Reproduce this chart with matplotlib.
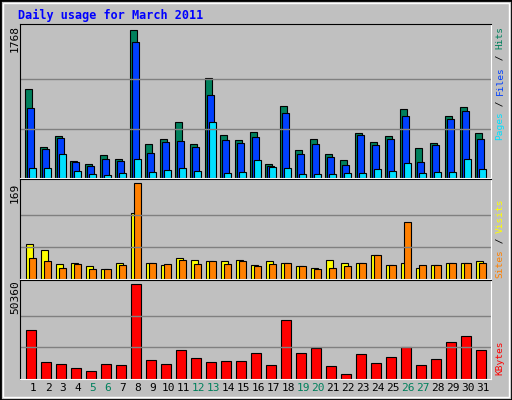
import matplotlib
matplotlib.use("Agg")
import matplotlib.pyplot as plt
import numpy as np
from matplotlib.patches import Rectangle

days = list(range(1, 32))
weekend = [5, 6, 12, 13, 19, 20, 26, 27]
hits = [1060, 370, 502, 201, 165, 273, 229, 1768, 406, 466, 671, 406, 1193, 514, 454, 550, 165, 864, 333, 466, 285, 213, 536, 428, 502, 829, 358, 418, 743, 851, 536]
files = [840, 346, 478, 189, 141, 225, 201, 1627, 297, 430, 442, 370, 988, 454, 418, 490, 141, 779, 285, 406, 249, 153, 514, 394, 466, 743, 189, 394, 707, 803, 466]
pages = [116, 116, 285, 80, 44, 32, 56, 225, 68, 92, 116, 80, 671, 56, 68, 213, 128, 116, 44, 44, 44, 56, 56, 104, 80, 177, 56, 68, 68, 225, 104]
visits = [61, 51, 26, 28, 22, 18, 28, 116, 29, 24, 37, 33, 31, 31, 33, 24, 31, 29, 22, 20, 33, 28, 29, 42, 24, 28, 20, 24, 29, 29, 31]
sites = [37, 31, 20, 26, 18, 18, 24, 169, 28, 26, 33, 26, 31, 26, 31, 22, 26, 28, 22, 18, 20, 22, 28, 42, 24, 101, 24, 24, 28, 29, 28]
kbytes = [26100, 9000, 7900, 5700, 4000, 7900, 7400, 50360, 10100, 7900, 15100, 11200, 9000, 9600, 9600, 14000, 7400, 31100, 14000, 16200, 6800, 2400, 13400, 8500, 11800, 16700, 7400, 10700, 19500, 22800, 15600]

bg = "#C0C0C0"
fig = plt.figure(figsize=(5.12, 4.0), dpi=100, facecolor=bg)
W, H = 512, 400
mono = "DejaVu Sans Mono"
PX0, PX1 = 20, 491
XL, XR = 0.133, 31.53

def ax_at(x0, y0, x1, y1):
    a = fig.add_axes([x0 / W, 1 - y1 / H, (x1 - x0) / W, (y1 - y0) / H])
    a.set_facecolor(bg)
    a.set_xlim(XL, XR)
    a.set_xticks([])
    a.set_yticks([])
    for s in a.spines.values():
        s.set_color("black")
    a.spines["right"].set_color("white")
    a.spines["bottom"].set_color("white")
    return a

d = np.array(days)
kw = dict(edgecolor="black", linewidth=0.8, align="edge")

a1 = ax_at(PX0, 24, PX1, 178)
m1 = 1768
a1.set_ylim(0, m1 * 1.04)
for f in (1/3, 2/3):
    a1.axhline(m1 * f, color="#808080", lw=1)
a1.bar(d - 0.51, hits, 0.44, color="#00805C", **kw)
a1.bar(d - 0.38, files, 0.47, color="#0040FF", **kw)
a1.bar(d - 0.27, pages, 0.47, color="#00E0FF", **kw)

a2 = ax_at(PX0, 179, PX1, 279)
m2 = 169
a2.set_ylim(0, m2 * 1.04)
for f in (1/3, 2/3):
    a2.axhline(m2 * f, color="#808080", lw=1)
a2.bar(d - 0.5, visits, 0.5, color="#FFFF00", **kw)
a2.bar(d - 0.29, sites, 0.5, color="#FF8000", **kw)

a3 = ax_at(PX0, 280, PX1, 379)
m3 = 50360
a3.set_ylim(0, m3 * 1.04)
for f in (1/3, 2/3):
    a3.axhline(m3 * f, color="#808080", lw=1)
a3.bar(d - 0.44, kbytes, 0.67, color="#FF0000", **kw)

for dd in days:
    fig.text((PX0 + (dd - XL) / (XR - XL) * (PX1 - PX0)) / W, 1 - 388 / H, str(dd),
             ha="center", va="center", fontsize=8, family=mono,
             color="#00805C" if dd in weekend else "black")

fig.text(18 / W, 1 - 15 / H, "Daily usage for March 2011", fontsize=8.5,
         family=mono, weight="bold", color="#0000FF", va="center")
for y, t in ((38, "1768"), (193, "169"), (297, "50360")):
    fig.text(15 / W, 1 - y / H, t, rotation=90, ha="center", va="center",
             fontsize=8, family=mono)

FS = 6.8
CH = FS * 0.602 * 100 / 72

def rlabel(ycenter, parts):
    n = sum(len(p[0]) for p in parts)
    y = ycenter + n * CH / 2
    for t, c in parts:
        L = len(t) * CH
        fig.text(500 / W, 1 - (y - L / 2) / H, t, rotation=90, ha="center",
                 va="center", fontsize=FS, family=mono, color=c)
        y -= L

rlabel(83, [("Pages", "#00E0FF"), (" / ", "#000000"), ("Files", "#0040FF"),
            (" / ", "#000000"), ("Hits", "#00805C")])
rlabel(238, [("Sites", "#FF8000"), (" / ", "#000000"), ("Visits", "#FFFF00")])
rlabel(358, [("KBytes", "#FF0000")])

fig.patches.append(Rectangle((0, 0), 1, 1, transform=fig.transFigure,
                             fill=False, edgecolor="black", lw=2))
fig.patches.append(Rectangle((3 / W, 3 / H), 1 - 6 / W, 1 - 6 / H,
                             transform=fig.transFigure, fill=False,
                             edgecolor="white", lw=1))

fig.savefig("out.png", dpi=100, facecolor=bg)
